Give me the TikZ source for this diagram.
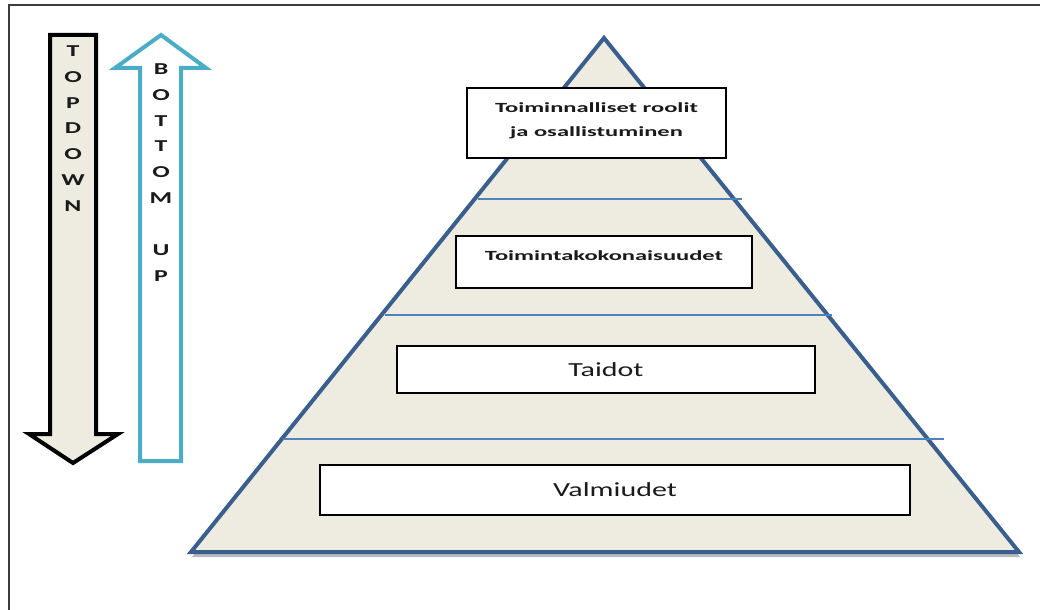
\documentclass[tikz,border=0pt]{standalone}
\usepackage{fontspec}
\setmainfont{Carlito}
\usepackage{graphicx}

\definecolor{paper}{HTML}{EEECE1}
\definecolor{pyredge}{HTML}{3A5F8E}
\definecolor{tierline}{HTML}{4F81BD}
\definecolor{upblue}{HTML}{4BACC6}
\definecolor{ink}{HTML}{1A1A1A}
\definecolor{framegray}{HTML}{3C3C3C}

% horizontal stretch of a text
\newcommand{\wide}[2]{\scalebox{#1}[1]{#2}}

\tikzset{
  arrowshape/.style={line width=3pt, line join=miter},
  downarrow/.style={arrowshape, draw=black, fill=paper},
  uparrow/.style={arrowshape, draw=upblue, fill=white},
  pyramid/.style={draw=pyredge, fill=paper, line width=3pt, line join=miter},
  tier/.style={draw=tierline, line width=0.9pt},
  levelbox/.style={draw=black, fill=white, line width=1.2pt, inner sep=0pt, text=ink},
  smalltext/.style={font=\fontsize{10.5}{18}\selectfont\bfseries, align=center},
  bigtext/.style={font=\fontsize{15}{18}\selectfont},
  lettercol/.style={inner sep=0pt, anchor=north, text=ink,
    font=\fontsize{12.5}{19.4}\selectfont\bfseries}
}

\begin{document}
\begin{tikzpicture}[x=0.75pt, y=-0.75pt]
\useasboundingbox (0,0) rectangle (1040,610);

% outer frame
\begin{scope}
  \clip (0,0) rectangle (1040,610);
  \draw[framegray, line width=1.5pt] (9,5) rectangle (1060,630);
\end{scope}

% top-down arrow
\draw[downarrow] (50,35) -- (96,35) -- (96,434) -- (118,434) -- (73,463)
  -- (29,434) -- (50,434) -- cycle;
\node[lettercol] (topdown) at (73,38)
  {\wide{1.55}{\begin{tabular}{@{}c@{}}T\\O\\P\\D\\O\\W\\N\end{tabular}}};

% bottom-up arrow
\draw[uparrow] (161,35) -- (206,68) -- (181,68) -- (181,461) -- (140,461)
  -- (140,68) -- (115,68) -- cycle;
\node[lettercol] (bottomup) at (161,56)
  {\wide{1.55}{\begin{tabular}{@{}c@{}}B\\O\\T\\T\\O\\M\\\mbox{}\\U\\P\end{tabular}}};

% pyramid with its shadow
\fill[gray!55] (604,43) -- (1020,557) -- (192,557) -- cycle;
\draw[pyramid] (604,38) -- (1019,552) -- (191,552) -- cycle;

% tier dividers
\draw[tier] (478,199) -- (742,199);
\draw[tier] (385,315) -- (832,315);
\draw[tier] (283,439) -- (944,439);

% levels
\node[levelbox, smalltext, minimum width=259*0.75pt, minimum height=70*0.75pt]
  (roles) at (596.5,123)
  {\raisebox{2.25pt}[\height][\depth]{\begin{tabular}{@{}c@{}}\wide{1.75}{Toiminnalliset roolit}\\\wide{1.75}{ja osallistuminen}\end{tabular}}};
\node[levelbox, smalltext, minimum width=296*0.75pt, minimum height=52*0.75pt]
  (wholes) at (604,262)
  {\raisebox{5pt}[\height][\depth]{\wide{1.75}{Toimintakokonaisuudet}}};
\node[levelbox, bigtext, minimum width=418*0.75pt, minimum height=47*0.75pt]
  (skills) at (606,369.5) {\wide{1.5}{Taidot}};
\node[levelbox, bigtext, minimum width=590*0.75pt, minimum height=50*0.75pt]
  (readiness) at (615,490) {\wide{1.5}{Valmiudet}};
\end{tikzpicture}
\end{document}
